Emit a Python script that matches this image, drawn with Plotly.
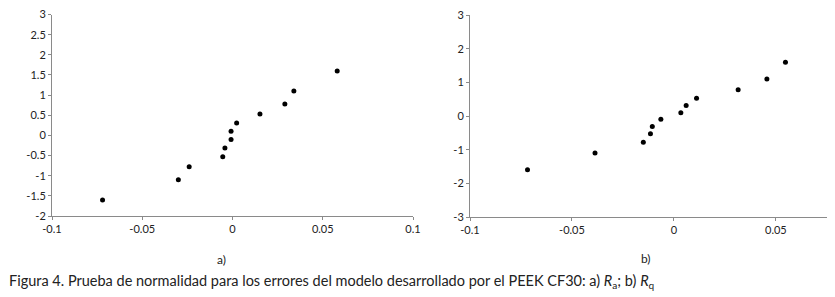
import plotly.graph_objects as go

# Data
quantiles = [-1.6, -1.1, -0.78, -0.53, -0.31, -0.1, 0.1, 0.31, 0.53, 0.78, 1.1, 1.6]
errors_ra = [-0.072, -0.030, -0.024, -0.0054, -0.0042, -0.0008, -0.0008, 0.0023, 0.0152, 0.029, 0.034, 0.058]
errors_rq = [-0.0718, -0.0387, -0.015, -0.0115, -0.0106, -0.0064, 0.0034, 0.006, 0.0111, 0.0315, 0.0456, 0.0547]

xa_ticks = [-0.1, -0.05, 0, 0.05, 0.1]
xa_text = ["-0.1", "-0.05", "0", "0.05", "0.1"]
ya_ticks = [-2, -1.5, -1, -0.5, 0, 0.5, 1, 1.5, 2, 2.5, 3]
ya_text = ["-2", "-1.5", "-1", "-0.5", "0", "0.5", "1", "1.5", "2", "2.5", "3"]

xb_ticks = [-0.1, -0.05, 0, 0.05]
xb_text = ["-0.1", "-0.05", "0", "0.05"]
yb_ticks = [-3, -2, -1, 0, 1, 2, 3]
yb_text = ["-3", "-2", "-1", "0", "1", "2", "3"]

caption = "Figura 4. Prueba de normalidad para los errores del modelo desarrollado por el PEEK CF30: a) <i>R</i><sub>a</sub>; b) <i>R</i><sub>q</sub>"

# page body has an 8px margin, so the figure is drawn 8px right/down
OFF = 8
W, H = 835 - OFF, 297 - OFF


def px_x(x):
    return (x - OFF) / W


def px_y(y):
    return 1 - (y - OFF) / H


fig = go.Figure()
fig.add_trace(go.Scatter(x=errors_ra, y=quantiles, mode="markers",
                         marker=dict(color="black", size=5), xaxis="x", yaxis="y"))
fig.add_trace(go.Scatter(x=errors_rq, y=quantiles, mode="markers",
                         marker=dict(color="black", size=5), xaxis="x2", yaxis="y2"))

tickfont = dict(family="Lato, Open Sans, sans-serif", size=11, color="#222")
axis_common = dict(showgrid=False, zeroline=False, showline=True, linecolor="#8a8a8a",
                   linewidth=1, ticks="outside", ticklen=3, tickcolor="#8a8a8a",
                   tickfont=tickfont, tickmode="array", automargin=False,
                   ticklabeloverflow="allow")

fig.update_layout(
    width=W, height=H, margin=dict(l=0, r=0, t=0, b=0, autoexpand=False),
    paper_bgcolor="white", plot_bgcolor="white", showlegend=False,
    xaxis=dict(domain=[px_x(52), px_x(413)], range=[-0.1, 0.1], tickvals=xa_ticks, ticktext=xa_text,
               anchor="y", **axis_common),
    yaxis=dict(domain=[px_y(216), px_y(14.5)], range=[-2, 3], tickvals=ya_ticks, ticktext=ya_text,
               anchor="x", **axis_common),
    xaxis2=dict(domain=[px_x(470), 1.0], range=[-0.1, 0.079], tickvals=xb_ticks, ticktext=xb_text,
                anchor="y2", **axis_common),
    yaxis2=dict(domain=[px_y(217), px_y(15)], range=[-3, 3], tickvals=yb_ticks, ticktext=yb_text,
                anchor="x2", **axis_common),
    annotations=[
        dict(text="a)", x=px_x(221.5), y=px_y(259), xref="paper", yref="paper", showarrow=False,
             xanchor="center", yanchor="middle",
             font=dict(family="Lato, sans-serif", size=12, color="#222")),
        dict(text="b)", x=px_x(646), y=px_y(258), xref="paper", yref="paper", showarrow=False,
             xanchor="center", yanchor="middle",
             font=dict(family="Lato, sans-serif", size=12, color="#222")),
        dict(text=caption, x=px_x(7), y=px_y(281), xref="paper", yref="paper", showarrow=False,
             xanchor="left", yanchor="middle",
             font=dict(family="Lato, sans-serif", size=14.5, color="#222")),
    ],
)

fig.write_html("out.html")
